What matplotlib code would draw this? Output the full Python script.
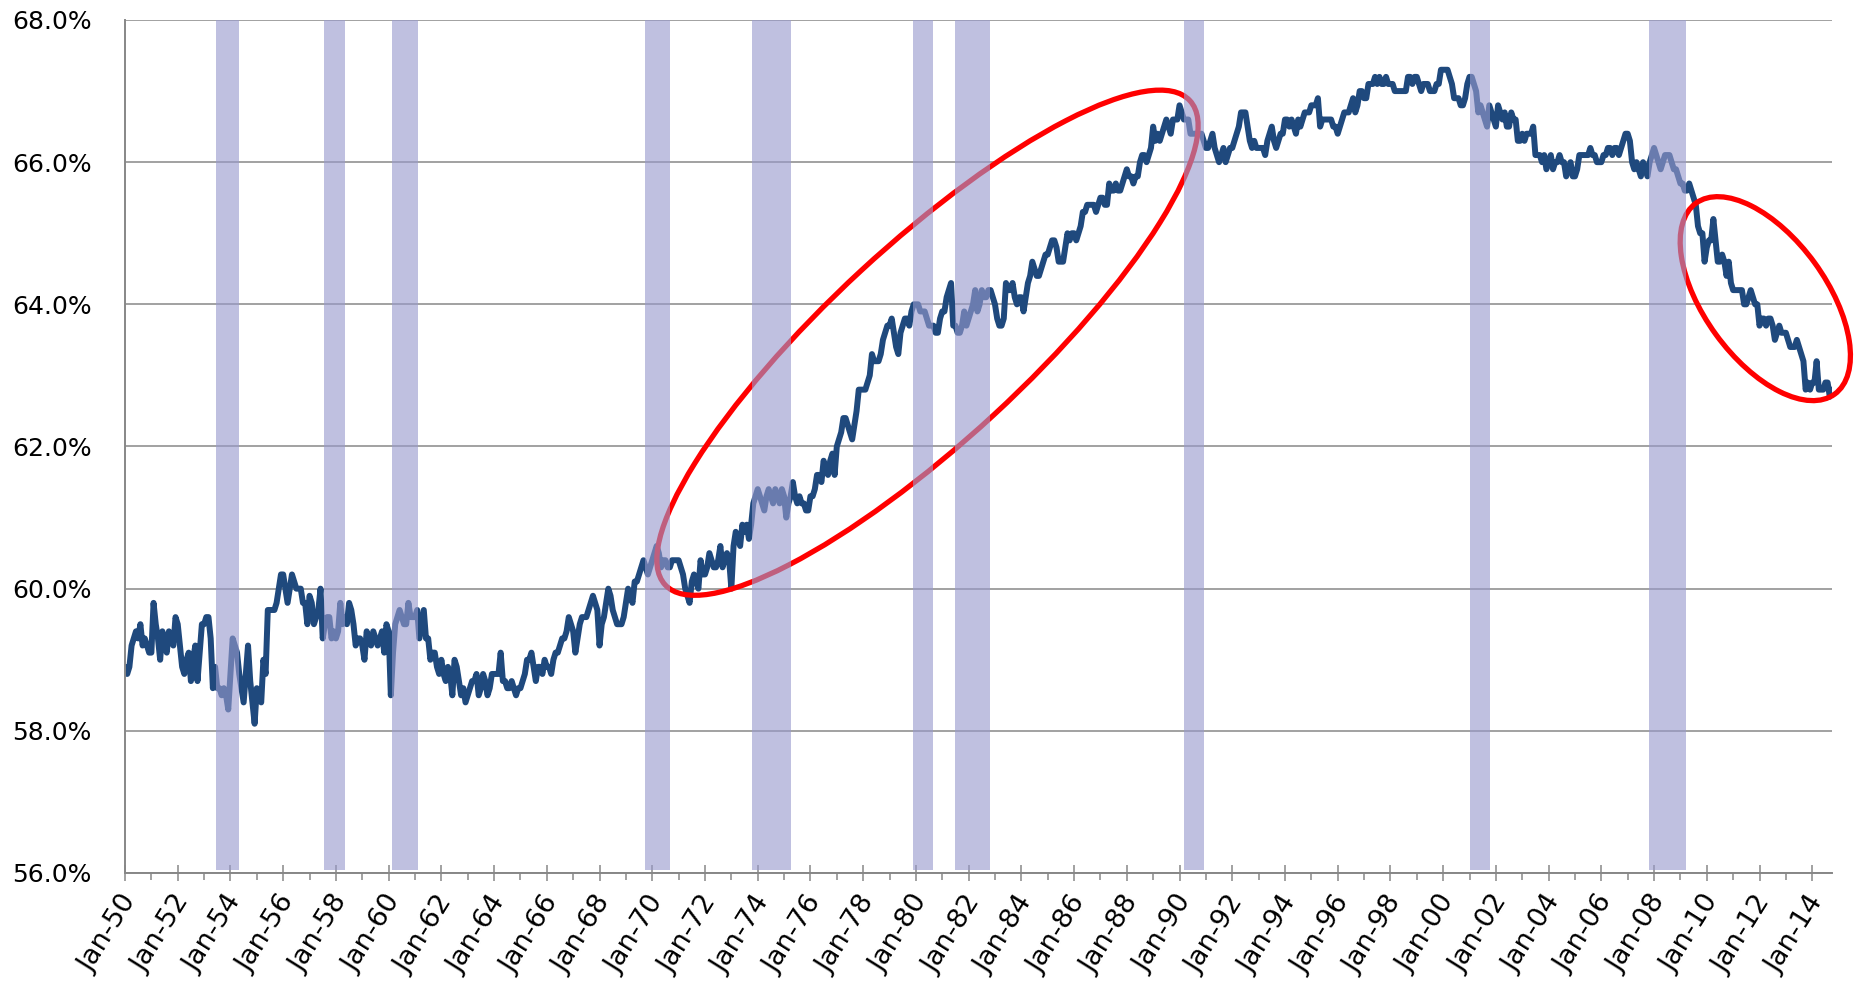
import numpy as np
import matplotlib
matplotlib.use("Agg")
import matplotlib.pyplot as plt
from matplotlib.patches import Ellipse
from matplotlib.transforms import IdentityTransform, ScaledTranslation

# Civilian labor force participation rate, monthly, Jan-1950 .. Oct-2014
lfpr_1950s = [
    58.9, 58.8, 58.9, 59.2, 59.3, 59.4, 59.3, 59.5, 59.2, 59.3, 59.2, 59.1,
    59.1, 59.8, 59.5, 59.3, 59.0, 59.4, 59.2, 59.1, 59.4, 59.3, 59.2, 59.6,
    59.5, 59.2, 58.9, 58.8, 59.0, 59.1, 58.7, 59.0, 59.2, 58.7, 59.1, 59.5,
    59.5, 59.6, 59.6, 59.3, 58.6, 58.9, 58.6, 58.6, 58.5, 58.6, 58.5, 58.3,
    58.8, 59.3, 59.2, 59.1, 58.8, 58.6, 58.4, 58.8, 59.2, 58.7, 58.4, 58.1,
    58.6, 58.5, 58.4, 59.0, 58.8, 59.7, 59.7, 59.7, 59.7, 59.8, 60.0, 60.2,
    60.2, 60.0, 59.8, 60.0, 60.2, 60.1, 60.0, 60.0, 60.0, 59.8, 59.8, 59.5,
    59.9, 59.8, 59.5, 59.6, 59.7, 60.0, 59.3, 59.5, 59.6, 59.6, 59.3, 59.4,
    59.3, 59.4, 59.8, 59.5, 59.6, 59.5, 59.8, 59.7, 59.5, 59.2, 59.3, 59.3,
    59.2, 59.0, 59.4, 59.3, 59.2, 59.4, 59.3, 59.2, 59.3, 59.4, 59.1, 59.5,
]
lfpr_1960s = [
    59.4, 58.5, 59.1, 59.5, 59.6, 59.7, 59.6, 59.5, 59.5, 59.8, 59.6, 59.6,
    59.6, 59.7, 59.3, 59.5, 59.7, 59.3, 59.3, 59.0, 59.1, 59.1, 58.9, 58.8,
    59.0, 58.8, 58.7, 58.9, 58.8, 58.5, 59.0, 58.9, 58.7, 58.5, 58.6, 58.4,
    58.5, 58.6, 58.7, 58.7, 58.8, 58.5, 58.6, 58.8, 58.7, 58.5, 58.6, 58.8,
    58.8, 58.8, 58.8, 59.1, 58.7, 58.7, 58.6, 58.6, 58.7, 58.6, 58.5, 58.6,
    58.6, 58.7, 58.8, 59.0, 59.0, 59.1, 58.9, 58.7, 58.9, 58.9, 58.8, 59.0,
    58.9, 58.9, 58.8, 59.0, 59.1, 59.1, 59.2, 59.3, 59.3, 59.4, 59.6, 59.5,
    59.4, 59.1, 59.3, 59.5, 59.6, 59.6, 59.6, 59.7, 59.8, 59.9, 59.8, 59.7,
    59.2, 59.5, 59.6, 59.8, 60.0, 59.9, 59.7, 59.6, 59.5, 59.5, 59.5, 59.6,
    59.8, 60.0, 59.9, 59.8, 60.1, 60.1, 60.2, 60.3, 60.4, 60.3, 60.2, 60.3,
]
lfpr_1970s = [
    60.4, 60.5, 60.6, 60.5, 60.3, 60.4, 60.4, 60.3, 60.3, 60.4, 60.4, 60.4,
    60.4, 60.3, 60.2, 60.0, 59.9, 59.8, 60.1, 60.2, 60.1, 60.0, 60.4, 60.2,
    60.2, 60.3, 60.5, 60.4, 60.3, 60.3, 60.4, 60.6, 60.3, 60.4, 60.5, 60.4,
    60.0, 60.6, 60.8, 60.7, 60.6, 60.9, 60.8, 60.9, 60.7, 60.9, 61.2, 61.3,
    61.4, 61.3, 61.2, 61.1, 61.3, 61.4, 61.3, 61.2, 61.4, 61.3, 61.2, 61.4,
    61.3, 61.0, 61.2, 61.3, 61.5, 61.3, 61.2, 61.3, 61.2, 61.2, 61.1, 61.1,
    61.3, 61.3, 61.4, 61.6, 61.6, 61.5, 61.8, 61.7, 61.6, 61.8, 61.9, 61.6,
    62.0, 62.1, 62.2, 62.4, 62.4, 62.3, 62.2, 62.1, 62.3, 62.5, 62.8, 62.8,
    62.8, 62.8, 62.9, 63.0, 63.3, 63.2, 63.2, 63.2, 63.3, 63.5, 63.6, 63.7,
    63.7, 63.8, 63.6, 63.4, 63.3, 63.6, 63.7, 63.8, 63.8, 63.7, 63.9, 64.0,
]
lfpr_1980s = [
    64.0, 64.0, 63.9, 63.9, 63.9, 63.8, 63.7, 63.7, 63.7, 63.6, 63.6, 63.8,
    63.9, 63.9, 64.1, 64.2, 64.3, 63.7, 63.7, 63.6, 63.6, 63.7, 63.9, 63.7,
    63.8, 63.9, 64.0, 64.2, 63.9, 64.0, 64.2, 64.1, 64.1, 64.2, 64.2, 64.1,
    64.0, 63.8, 63.7, 63.7, 63.8, 64.3, 64.2, 64.2, 64.3, 64.1, 64.0, 64.1,
    64.1, 63.9, 64.1, 64.3, 64.4, 64.6, 64.5, 64.4, 64.4, 64.5, 64.6, 64.7,
    64.7, 64.8, 64.9, 64.9, 64.8, 64.6, 64.6, 64.6, 64.8, 65.0, 64.9, 65.0,
    65.0, 64.9, 65.0, 65.1, 65.3, 65.3, 65.4, 65.4, 65.4, 65.4, 65.3, 65.4,
    65.5, 65.5, 65.4, 65.4, 65.7, 65.6, 65.6, 65.7, 65.6, 65.6, 65.7, 65.8,
    65.9, 65.8, 65.8, 65.7, 65.8, 65.8, 66.0, 66.1, 66.1, 66.0, 66.1, 66.2,
    66.5, 66.3, 66.4, 66.3, 66.4, 66.5, 66.6, 66.5, 66.4, 66.6, 66.6, 66.6,
]
lfpr_1990s = [
    66.8, 66.7, 66.6, 66.6, 66.6, 66.4, 66.4, 66.4, 66.4, 66.4, 66.4, 66.3,
    66.2, 66.2, 66.3, 66.4, 66.2, 66.1, 66.0, 66.1, 66.2, 66.0, 66.1, 66.2,
    66.2, 66.3, 66.4, 66.5, 66.7, 66.7, 66.7, 66.5, 66.3, 66.2, 66.3, 66.2,
    66.2, 66.2, 66.2, 66.1, 66.3, 66.4, 66.5, 66.3, 66.2, 66.3, 66.4, 66.4,
    66.6, 66.6, 66.5, 66.6, 66.5, 66.4, 66.6, 66.5, 66.6, 66.7, 66.7, 66.7,
    66.8, 66.8, 66.8, 66.9, 66.5, 66.6, 66.6, 66.6, 66.6, 66.6, 66.5, 66.5,
    66.4, 66.5, 66.6, 66.7, 66.7, 66.7, 66.8, 66.9, 66.7, 66.8, 67.0, 67.0,
    66.9, 66.9, 67.1, 67.1, 67.1, 67.2, 67.1, 67.2, 67.1, 67.1, 67.2, 67.1,
    67.1, 67.1, 67.0, 67.0, 67.0, 67.0, 67.0, 67.0, 67.2, 67.2, 67.1, 67.2,
    67.2, 67.1, 67.0, 67.1, 67.1, 67.1, 67.0, 67.0, 67.0, 67.1, 67.1, 67.3,
]
lfpr_2000s = [
    67.3, 67.3, 67.3, 67.2, 67.1, 66.9, 66.9, 66.9, 66.8, 66.8, 66.9, 67.1,
    67.2, 67.2, 67.1, 67.0, 66.7, 66.8, 66.7, 66.6, 66.5, 66.8, 66.7, 66.6,
    66.5, 66.8, 66.7, 66.6, 66.7, 66.5, 66.5, 66.7, 66.6, 66.6, 66.3, 66.3,
    66.4, 66.3, 66.4, 66.4, 66.4, 66.5, 66.1, 66.1, 66.1, 66.0, 66.1, 65.9,
    66.0, 66.1, 65.9, 66.0, 66.0, 66.1, 66.0, 66.0, 65.8, 65.9, 66.0, 65.8,
    65.8, 65.9, 66.1, 66.1, 66.1, 66.1, 66.1, 66.2, 66.1, 66.1, 66.0, 66.0,
    66.0, 66.1, 66.1, 66.2, 66.2, 66.1, 66.2, 66.2, 66.1, 66.2, 66.3, 66.4,
    66.4, 66.3, 66.0, 65.9, 66.0, 65.9, 65.8, 66.0, 65.9, 65.8, 66.0, 66.1,
    66.2, 66.1, 66.0, 65.9, 66.0, 66.1, 66.1, 66.1, 66.0, 65.9, 65.9, 65.8,
    65.7, 65.7, 65.6, 65.6, 65.7, 65.6, 65.5, 65.4, 65.1, 65.0, 65.0, 64.6,
]
lfpr_2010s = [
    64.8, 64.9, 64.9, 65.2, 64.9, 64.6, 64.6, 64.7, 64.6, 64.4, 64.6, 64.3,
    64.2, 64.2, 64.2, 64.2, 64.2, 64.0, 64.0, 64.1, 64.2, 64.1, 64.0, 64.0,
    63.7, 63.8, 63.8, 63.7, 63.8, 63.8, 63.7, 63.5, 63.6, 63.7, 63.6, 63.6,
    63.6, 63.5, 63.4, 63.4, 63.4, 63.5, 63.4, 63.3, 63.2, 62.8, 62.9, 62.8,
    62.9, 62.9, 63.2, 62.8, 62.8, 62.8, 62.9, 62.9, 62.7, 62.8,
]

start_year = 1950
# Recession shading (decimal years, as drawn on the chart)
recession_start = [1953.44, 1957.53, 1960.13, 1969.73, 1973.78, 1979.89, 1981.48, 1990.17, 2001.02, 2007.81]
recession_end   = [1954.34, 1958.33, 1961.12, 1970.68, 1975.25, 1980.65, 1982.80, 1990.92, 2001.77, 2009.20]

tick_years = list(range(1950, 2015, 2))
tick_labels = ["Jan-%02d" % (y % 100) for y in tick_years]
y_ticks = [56, 58, 60, 62, 64, 66, 68]
y_labels = ["%.1f%%" % v for v in y_ticks]

# Highlight ellipses: centre (decimal year, %), size in pixels, angle in degrees
ell_center_year = [1980.44, 2012.22]
ell_center_val = [63.46, 64.08]
ell_width_px = [714, 236]
ell_height_px = [196, 122]
ell_angle = [42.7, -54.0]

lfpr = lfpr_1950s + lfpr_1960s + lfpr_1970s + lfpr_1980s + lfpr_1990s + lfpr_2000s + lfpr_2010s
months = np.arange(len(lfpr))

W, H = 1858, 986
fig = plt.figure(figsize=(W / 100, H / 100), dpi=100)
fig.patch.set_facecolor("white")
ax = fig.add_axes([125 / W, (H - 873) / H, 1707 / W, 853 / H])

grey = "#878787"
ax.plot(months, lfpr, color="#1F497D", lw=4.3, zorder=3,
        solid_joinstyle="round", solid_capstyle="round")

ax.set_xlim(0, len(lfpr) - 1)
ax.set_ylim(56, 68)

bar_color = (152 / 255, 154 / 255, 205 / 255)
for s, e in zip(recession_start, recession_end):
    ax.axvspan((s - start_year) * 12, (e - start_year) * 12, ymin=0.004, ymax=1.0,
               color=bar_color, alpha=0.62, lw=0, zorder=5)

fig.canvas.draw()
for cy, cv, w, h, a in zip(ell_center_year, ell_center_val, ell_width_px, ell_height_px, ell_angle):
    cx_pix, cy_pix = ax.transData.transform(((cy - start_year) * 12, cv))
    e = Ellipse((cx_pix, cy_pix), width=w, height=h, angle=a, fill=False,
                edgecolor="#FF0000", lw=3.8, transform=IdentityTransform(),
                zorder=4, clip_on=False)
    ax.add_patch(e)

ax.set_yticks(y_ticks)
ax.set_yticklabels(y_labels)
ax.yaxis.grid(True, color=grey, lw=1.1, zorder=1)
ax.set_axisbelow(True)
ax.tick_params(axis="y", length=0, pad=24, labelsize=18, labelcolor="black")

ax.set_xticks([(y - start_year) * 12 for y in tick_years])
ax.set_xticklabels(tick_labels, rotation=58, ha="right", va="center",
                   rotation_mode="anchor")
ax.set_xticks([(y - start_year) * 12 for y in range(1951, 2015, 2)], minor=True)
ax.tick_params(axis="x", which="major", direction="inout", length=11.5, width=1.1,
               color=grey, pad=12, labelsize=19.5)
ax.tick_params(axis="x", which="minor", direction="out", length=5, width=1.1, color=grey)
shift = ScaledTranslation(6 / 100, 0, fig.dpi_scale_trans)
for lab in ax.get_xticklabels():
    lab.set_transform(lab.get_transform() + shift)

for side in ["top", "right"]:
    ax.spines[side].set_visible(False)
for side in ["left", "bottom"]:
    ax.spines[side].set_color(grey)
    ax.spines[side].set_linewidth(1.4)
    ax.spines[side].set_zorder(6)

fig.savefig("out.png", dpi=100, facecolor="white")
